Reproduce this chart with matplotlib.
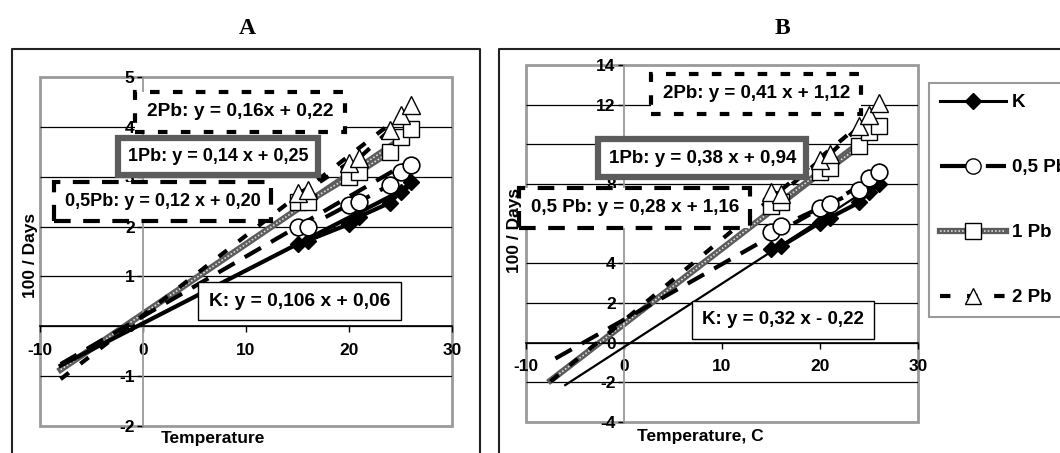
import matplotlib
matplotlib.use("Agg")
import matplotlib.pyplot as plt
from matplotlib.lines import Line2D
import numpy as np

plt.rcParams['font.family'] = ['Liberation Sans', 'DejaVu Sans']
plt.rcParams['font.weight'] = 'bold'
plt.rcParams['axes.unicode_minus'] = False

# ---- data ----
temps = [15, 16, 20, 21, 24, 25, 26]

k_a = [1.65, 1.72, 2.05, 2.2, 2.48, 2.7, 2.9]
pb05_a = [2.0, 2.0, 2.44, 2.5, 2.84, 3.1, 3.24]
pb1_a = [2.5, 2.5, 3.0, 3.1, 3.5, 3.8, 3.95]
pb2_a = [2.68, 2.74, 3.28, 3.38, 3.94, 4.24, 4.44]

k_b = [4.7, 4.85, 6.05, 6.3, 7.07, 7.6, 8.0]
pb05_b = [5.6, 5.86, 6.8, 7.0, 7.7, 8.3, 8.6]
pb1_b = [6.9, 7.1, 8.6, 8.8, 9.9, 10.6, 10.9]
pb2_b = [7.6, 7.5, 9.2, 9.5, 10.9, 11.5, 12.1]

# trendline coefficients (slope, intercept) and x ranges
trend_a = {'K': (0.106, 0.06), '0,5 Pb': (0.12, 0.20), '1 Pb': (0.14, 0.25), '2 Pb': (0.16, 0.22)}
trend_b = {'K': (0.32, -0.22), '0,5 Pb': (0.28, 1.16), '1 Pb': (0.38, 0.94), '2 Pb': (0.41, 1.12)}
trend_x_a = {'K': [-8, 26], '0,5 Pb': [-8, 26], '1 Pb': [-8, 26], '2 Pb': [-8, 26]}
trend_x_b = {'K': [-6, 26], '0,5 Pb': [-7, 26], '1 Pb': [-7.5, 26], '2 Pb': [-7.5, 26]}

labels_a = ['K: y = 0,106 x + 0,06', '0,5Pb: y = 0,12 x + 0,20',
            '1Pb: y = 0,14 x + 0,25', '2Pb: y = 0,16x + 0,22']
labels_b = ['K: y = 0,32 x - 0,22', '0,5 Pb: y = 0,28 x + 1,16',
            '1Pb: y = 0,38 x + 0,94', '2Pb: y = 0,41 x + 1,12']

names = ['K', '0,5 Pb', '1 Pb', '2 Pb']

# ---- styles ----
GRAY = '#5c5c5c'
TEXTURE = (0, (1, 1.2))
DASH_LONG = (0, (4.5, 2.8))
DASH_SHORT = (0, (2.5, 3.5))


def draw_series(ax, x, y, name, lw=3.0):
    if name == 'K':
        ax.plot(x, y, color='black', lw=lw, marker='D', ms=8, mfc='black', mec='black', zorder=4)
    elif name == '0,5 Pb':
        ax.plot(x, y, color='black', lw=lw, ls=DASH_LONG, marker='o', ms=12,
                mfc='white', mec='black', mew=1.2, zorder=4)
    elif name == '1 Pb':
        ax.plot(x, y, color=GRAY, lw=lw + 1.5, zorder=3)
        ax.plot(x, y, color='#dddddd', lw=1.2, ls=TEXTURE, marker='s', ms=11,
                mfc='white', mec='black', mew=1.0, zorder=3.5)
    else:
        ax.plot(x, y, color='black', lw=lw, ls=DASH_SHORT, marker='^', ms=13,
                mfc='white', mec='black', mew=1.0, zorder=3.8)


def draw_trend(ax, name, coef, xr, lw=3.0):
    xs = np.array(xr, dtype=float)
    ys = coef[0] * xs + coef[1]
    if name == 'K':
        ax.plot(xs, ys, color='black', lw=lw, zorder=2.6)
    elif name == '0,5 Pb':
        ax.plot(xs, ys, color='black', lw=lw, ls=DASH_LONG, zorder=2.6)
    elif name == '1 Pb':
        ax.plot(xs, ys, color=GRAY, lw=lw + 1.5, zorder=2.5)
        ax.plot(xs, ys, color='#dddddd', lw=1.2, ls=TEXTURE, zorder=2.55)
    else:
        ax.plot(xs, ys, color='black', lw=lw, ls=DASH_SHORT, zorder=2.7)


def box_style(name):
    if name == 'K':
        return dict(boxstyle='square,pad=0.55', fc='white', ec='black', lw=1.0)
    if name == '0,5 Pb':
        return dict(boxstyle='square,pad=0.6', fc='white', ec='black', lw=3.0, ls=(0, (4, 3)))
    if name == '1 Pb':
        return dict(boxstyle='square,pad=0.55', fc='white', ec=GRAY, lw=4.5)
    return dict(boxstyle='square,pad=0.6', fc='white', ec='black', lw=3.0, ls=(0, (2.3, 3.2)))


def put_label(ax, xy, text, name, size=13.8):
    ax.text(*xy, text, ha='center', va='center', fontsize=size, fontweight='bold',
            bbox=box_style(name), zorder=6)


def setup_axes(ax, xlim, ylim, yticks):
    ax.set_xlim(*xlim)
    ax.set_ylim(*ylim)
    for s in ['top', 'right']:
        ax.spines[s].set_visible(False)
    ax.spines['left'].set_position(('data', 0))
    ax.spines['left'].set_color('#9a9a9a')
    ax.spines['left'].set_linewidth(1.3)
    ax.spines['bottom'].set_position(('data', 0))
    ax.spines['bottom'].set_color('black')
    ax.spines['bottom'].set_linewidth(1.2)
    ax.patch.set_edgecolor('#9a9a9a')
    ax.patch.set_linewidth(2.0)
    ax.set_xticks([-10, 0, 10, 20, 30])
    ax.set_yticks(yticks)
    ax.tick_params(axis='both', direction='out', length=4, width=1, labelsize=12.5, pad=2)
    ax.tick_params(axis='x', pad=8)
    for lab in ax.get_xticklabels() + ax.get_yticklabels():
        lab.set_fontweight('bold')
    ax.hlines(yticks[1:-1], xlim[0], xlim[1], color='black', lw=0.9, zorder=0.5)


fig = plt.figure(figsize=(10.6, 4.53), dpi=100)
W, H = 1060.0, 453.0

ax_a = fig.add_axes([40 / W, (H - 426) / H, 412 / W, 349 / H])
ax_b = fig.add_axes([526 / W, (H - 422) / H, 392 / W, 357 / H])

setup_axes(ax_a, (-10, 30), (-2, 5), [-2, -1, 0, 1, 2, 3, 4, 5])
setup_axes(ax_b, (-10, 30), (-4, 14), [-4, -2, 0, 2, 4, 6, 8, 10, 12, 14])

series_a = [k_a, pb05_a, pb1_a, pb2_a]
series_b = [k_b, pb05_b, pb1_b, pb2_b]

for name, ys in zip(names, series_a):
    draw_trend(ax_a, name, trend_a[name], trend_x_a[name])
    draw_series(ax_a, temps, ys, name)

for name, ys in zip(names, series_b):
    draw_trend(ax_b, name, trend_b[name], trend_x_b[name], lw=1.6 if name == 'K' else 3.0)
    draw_series(ax_b, temps, ys, name)

# equation labels
pos_a = {'K': (15.2, 0.5), '0,5 Pb': (1.9, 2.5), '1 Pb': (7.3, 3.4), '2 Pb': (9.4, 4.3)}
pos_b = {'K': (16.2, 1.15), '0,5 Pb': (1.1, 6.8), '1 Pb': (8.0, 9.3), '2 Pb': (13.5, 12.55)}
size_a = {'K': 13.8, '0,5 Pb': 13.0, '1 Pb': 13.0, '2 Pb': 13.8}
for name, lab in zip(names, labels_a):
    put_label(ax_a, pos_a[name], lab, name, size_a[name])
for name, lab in zip(names, labels_b):
    put_label(ax_b, pos_b[name], lab, name, 13.5)

# axis titles
fig.text(213 / W, 1 - 438 / H, 'Temperature', ha='center', va='center', fontsize=12.5, fontweight='bold')
fig.text(700 / W, 1 - 437 / H, 'Temperature, C', ha='center', va='center', fontsize=12.5, fontweight='bold')
fig.text(30 / W, 1 - 255 / H, '100 / Days', ha='center', va='center', rotation=90, fontsize=12.5, fontweight='bold')
fig.text(514 / W, 1 - 230 / H, '100 / Days', ha='center', va='center', rotation=90, fontsize=12.5, fontweight='bold')

# panel titles
fig.text(247 / W, 1 - 28 / H, 'A', ha='center', va='center', fontsize=17, fontweight='bold',
         family='Liberation Serif')
fig.text(782 / W, 1 - 28 / H, 'B', ha='center', va='center', fontsize=17, fontweight='bold',
         family='Liberation Serif')

# outer panel frames
frame_kw = dict(color='#222222', lw=1.5, transform=fig.transFigure)
fig.add_artist(Line2D([12 / W, 12 / W, 480 / W, 480 / W], [0, 1 - 49 / H, 1 - 49 / H, 0], **frame_kw))
fig.add_artist(Line2D([499 / W, 499 / W, 1.0], [0, 1 - 49 / H, 1 - 49 / H], **frame_kw))

# legend for panel B
handles = [
    Line2D([], [], color='black', lw=2.2, marker='D', ms=8, mfc='black'),
    Line2D([], [], color='black', lw=3.0, ls=(0, (8, 3)), marker='o', ms=11, mfc='white', mec='black'),
    (Line2D([], [], color=GRAY, lw=4.5),
     Line2D([], [], color='#dddddd', lw=1.2, ls=TEXTURE, marker='s', ms=11, mfc='white', mec='black')),
    Line2D([], [], color='black', lw=3.0, ls=(0, (2.5, 4)), marker='^', ms=11, mfc='white', mec='black'),
]
leg = ax_b.legend(handles, names, loc='upper left', bbox_to_anchor=(929 / W, 1 - 83 / H),
                  bbox_transform=fig.transFigure, borderaxespad=0, frameon=True, fancybox=False,
                  edgecolor='#9a9a9a', framealpha=1, prop=dict(size=13.5, weight='bold'),
                  handlelength=3.5, handletextpad=0.3, labelspacing=2.55, borderpad=0.6)
leg.get_frame().set_linewidth(1.5)

fig.savefig('out.png', dpi=100)
